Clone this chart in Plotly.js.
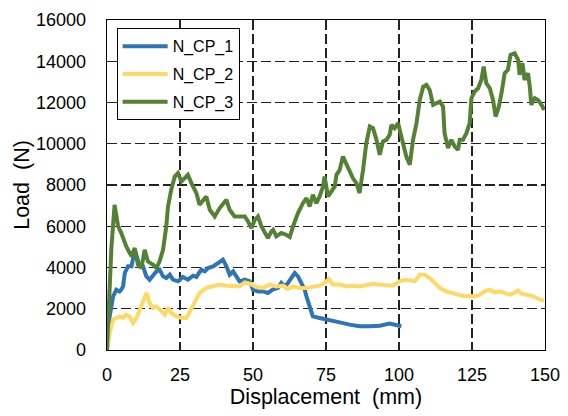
<!DOCTYPE html>
<html>
<head>
<meta charset="utf-8">
<script src="https://cdn.plot.ly/plotly-3.0.1.min.js"></script>
<style>html,body{margin:0;padding:0;background:#fff;}#chart{width:568px;height:416px;}</style>
</head>
<body>
<div id="chart"></div>
<script>
// N_CP_1 (blue)
const cp1X = [0,0.9,2.1,3.2,4.3,4.9,5.5,6.1,7.2,8.4,9.5,10.3,11.2,12.3,13.5,14.6,15.8,16.9,18,19.2,20.3,21.5,22.6,24.3,26,27.7,29.5,30.6,32.3,33.5,34.6,36.3,38,39.2,39.7,40.9,42,43.2,44.3,45.4,47.2,48.9,50,51.7,53.4,55.1,56.8,58.6,59.7,60.9,62,63.2,64.3,65.4,66.6,67.7,68.3,69.4,70.5,72.8,76.3,79.7,83.1,86.5,90,93.4,96.8,98.5,100.2,100.8];
const cp1Y = [0,1630,2600,2925,2840,2925,3085,3735,4055,4055,4860,4540,4055,4055,3570,3410,3650,3810,3895,3570,3490,3650,3410,3330,3540,3410,3600,3540,3895,3810,3975,4055,4215,4300,4380,4055,3650,3810,3570,3330,3410,3330,2925,2840,2840,2765,2925,3010,3250,3085,3250,3490,3735,3570,3250,2925,2600,2115,1630,1555,1470,1340,1230,1150,1150,1180,1280,1230,1150,1150];

// N_CP_2 (yellow)
const cp2X = [0,0.9,2.1,3.2,4.3,5.5,6.6,7.8,8.9,10.1,11.2,12.3,13.5,14.6,15.8,16.9,18,19.8,20.9,22,23.8,25.5,27.2,28.3,30,31.7,34,36.3,38.6,40.9,43.2,45.4,47.2,48.9,51.2,53.4,55.7,58,60.3,62,63.7,66,68.3,70.5,72.8,74.5,76,77.4,79.7,82,84.2,86.5,88.8,91.1,93.4,95.7,97.9,100.2,102,103.7,105.4,107.1,108.8,110.5,112.2,114,116.2,118.5,120.8,122.5,124.2,125.9,127.6,129.4,131.1,132.8,134.5,136.2,137.9,139.6,140.8,141.9,143.6,145.3,147.1,148.2,149.7];
const cp2Y = [0,830,1470,1555,1630,1555,1715,1630,1310,1555,1955,2440,2765,2280,2040,2115,1955,1715,2040,1795,1630,1555,1555,1875,2280,2765,3010,3085,3170,3120,3120,3085,3280,3215,3055,3010,3170,3085,3120,2960,3085,3010,3010,3085,3120,3250,3440,3170,3170,3085,3120,3085,3170,3215,3170,3120,3120,3330,3410,3375,3330,3650,3650,3490,3250,3010,2840,2765,2680,2600,2635,2600,2680,2840,2925,2795,2840,2765,2680,2765,2890,2730,2680,2635,2520,2440,2405];

// N_CP_3 (green)
const cp3X = [0,1.5,2.6,3.8,4.9,6.6,8.4,9.5,10.6,11.8,12.9,14,15.8,16.9,18,19.2,20.3,20.9,22,23.2,24.3,25.5,26.6,27.7,28.9,30.6,31.7,32.9,34,35.2,36.9,38.6,39.7,40.9,42,43.7,45.4,47.2,48.3,49.5,50.6,51.7,52.9,54,55.1,56.3,56.9,58,59.7,61.4,62.6,63.7,65.4,67.1,68.3,69.4,70.5,71.7,72.8,74,74.5,75.7,76.8,78,78.6,79.7,80.8,82,83.1,84.2,85.4,86.5,87.7,88.8,90,91.1,92.3,93.4,94.5,95.7,96.8,97.4,98.5,99.7,100.8,102.5,103.7,104.8,106,107.1,108.3,109.4,110.5,111.7,112.8,114,115.1,115.6,116.8,117.9,119.1,120.2,120.8,121.9,123.1,124.2,124.8,125.9,127.1,128.2,129,129.9,131.1,132.2,133.1,134.2,135.1,136.2,137.3,138.2,139.6,140.8,141.3,142.3,143,144.2,144.8,145.3,146.5,147.6,148.8,149.7];
const cp3Y = [0,4945,7040,6000,5670,5020,4540,4945,4135,3975,4860,4300,4135,3975,4300,4860,5990,6960,7770,8410,8575,8170,8330,8495,8090,7610,7040,7280,7445,6800,6475,6880,7040,7280,6800,6475,6475,6475,6230,5910,6315,6475,5990,5670,5430,5750,5830,5510,5670,5590,5480,5990,6640,7120,7365,6960,7525,7120,7445,7930,8410,7445,7690,7930,8495,8735,9380,8980,8655,8335,8090,7610,8735,10030,10835,10755,10190,9460,10110,10190,10430,10915,10755,11000,10350,9380,8980,10190,11000,12125,12770,12855,12610,11885,11965,12045,11800,10515,9790,10190,9865,9705,10190,10190,10515,11000,12210,12530,12690,13095,13740,12935,12690,12125,11320,11800,12450,13420,13580,14305,14390,14065,13340,13905,13095,13420,12770,11885,12210,12125,11885,11640];

const seriesNames = ['N_CP_1','N_CP_2','N_CP_3'];
const seriesColors = ['#2E75B6','#FFD966','#548235'];
const xTicks = [0,25,50,75,100,125,150];
const yTicks = [0,2000,4000,6000,8000,10000,12000,14000,16000];

const xs = [cp1X, cp2X, cp3X];
const ys = [cp1Y, cp2Y, cp3Y];
const traces = seriesNames.map((n,i)=>({
  x: xs[i], y: ys[i], name: n, type:'scatter', mode:'lines',
  legendgroup: 'g'+i,
  line:{color:seriesColors[i], width:4}
}));

const fontFam = '"Liberation Sans", Arial, sans-serif';
const layout = {
  width:568, height:416,
  margin:{l:107, r:23, t:20, b:66},
  paper_bgcolor:'#fff', plot_bgcolor:'#fff',
  font:{family:fontFam, color:'#000', size:18},
  showlegend:true,
  legend:{x:0.022, y:0.975, xanchor:'left', yanchor:'top',
    bgcolor:'#fff', bordercolor:'#000', borderwidth:1,
    font:{family:fontFam, size:16, color:'#000'},
    tracegroupgap:4, itemwidth:45},
  xaxis:{range:[0,150], tickvals:xTicks, ticktext:xTicks.map(String),
    showline:true, linecolor:'#000', linewidth:1.3, mirror:true,
    showgrid:true, gridcolor:'#222', gridwidth:1.2, griddash:'10px,4px',
    zeroline:false, ticks:'', ticklabelstandoff:8,
    tickfont:{family:fontFam, size:18, color:'#000'},
    title:{text:'Displacement&nbsp; (mm)', font:{family:fontFam, size:21.5, color:'#000'}, standoff:4}},
  yaxis:{range:[0,16000], tickvals:yTicks, ticktext:yTicks.map(String),
    showline:true, linecolor:'#000', linewidth:1.3, mirror:true,
    showgrid:true, gridcolor:'#222', gridwidth:1.2, griddash:'10px,4px',
    zeroline:false, ticks:'', ticklabelstandoff:16,
    tickfont:{family:fontFam, size:18, color:'#000'},
    title:{text:'Load&nbsp; (N)', font:{family:fontFam, size:21.5, color:'#000'}, standoff:0}}
};
Plotly.newPlot('chart', traces, layout, {displayModeBar:false, staticPlot:true});
</script>
</body>
</html>
